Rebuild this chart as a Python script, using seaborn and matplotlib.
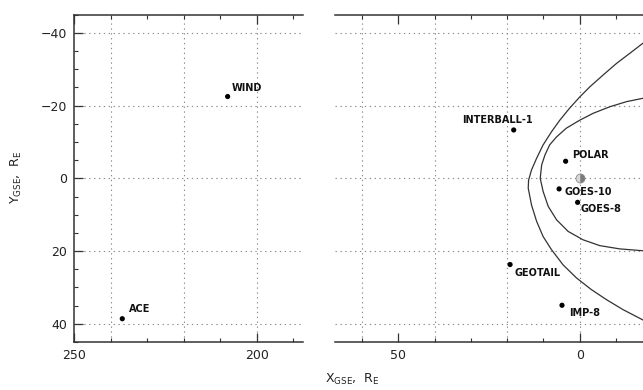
import matplotlib
matplotlib.use("Agg")
import matplotlib.pyplot as plt
import seaborn as sns
import pandas as pd
import numpy as np

# spacecraft far upstream (left panel)
far_names = ["WIND", "ACE"]
far_x = [208.0, 236.8]
far_y = [-22.5, 38.6]

# spacecraft near Earth (right panel)
near_names = ["INTERBALL-1", "POLAR", "GOES-10", "GOES-8", "GEOTAIL", "IMP-8"]
near_x = [18.2, 3.9, 5.7, 0.6, 19.2, 4.9]
near_y = [-13.3, -4.7, 2.9, 6.6, 23.7, 34.9]

earth_x = [0.0]
earth_y = [0.0]

# bow shock and magnetopause
bow_x = [-20.0, -17.3, -13.8, -10.1, -6.4, -2.8, 0.0, 2.8, 5.5, 7.8, 10.1, 11.9,
         13.3, 14.1, 14.2, 13.3, 11.9, 10.1, 7.8, 4.6, 0.9, -3.2, -7.4, -11.9,
         -17.3, -20.0]
bow_y = [-38.5, -37.1, -34.4, -31.6, -28.4, -25.2, -22.4, -19.3, -16.0, -12.8,
         -9.2, -5.5, -2.3, 0.5, 2.7, 7.3, 11.8, 16.0, 19.6, 23.8, 27.4, 30.6,
         33.4, 36.1, 38.9, 40.3]
mp_x = [-20.0, -17.3, -12.9, -8.3, -3.7, 0.0, 3.7, 6.4, 8.3, 9.6, 10.5, 10.9,
        10.1, 8.7, 6.4, 3.2, -0.9, -5.5, -11.0, -17.3, -20.0]
mp_y = [-22.4, -22.0, -21.1, -19.7, -17.9, -16.0, -13.8, -11.4, -9.2, -6.4,
        -3.7, 0.0, 3.6, 7.7, 11.4, 14.6, 16.9, 18.5, 19.4, 19.9, 20.05]

# label offsets in points: (dx, dy, ha, va)
far_offsets = [(3, 4.3, "left", "baseline"), (4.6, 4.8, "left", "baseline")]
near_offsets = [(14, 4.8, "right", "baseline"), (4.8, 2.2, "left", "baseline"),
                (4.1, 1.5, "left", "top"), (2.4, -1.5, "left", "top"),
                (2.9, -2.2, "left", "top"), (5.0, -1.8, "left", "top")]

sns.set_style("white")
plt.rcParams["font.family"] = ["DejaVu Sans"]

fig = plt.figure(figsize=(6.43, 3.9), dpi=100)
ax1 = fig.add_axes([0.1151, 0.1231, 0.3561, 0.8392])
ax2 = fig.add_axes([0.521, 0.1231, 0.479, 0.8392])

spine_col = "#333333"
grid_kw = dict(color="#8a8a8a", lw=0.8, ls=(0, (1.2, 3.2)), zorder=0)


def style_axis(ax, xlim, left):
    ax.set_xlim(*xlim)
    ax.set_ylim(45, -45)
    for y in [-40, -20, 0, 20, 40]:
        ax.axhline(y, **grid_kw)
    g0 = int(np.ceil(min(xlim) / 20.0)) * 20
    for x in np.arange(g0, max(xlim), 20):
        ax.axvline(x, **grid_kw)
    ax.xaxis.set_major_locator(matplotlib.ticker.MultipleLocator(50))
    ax.xaxis.set_minor_locator(matplotlib.ticker.MultipleLocator(10))
    ax.yaxis.set_major_locator(matplotlib.ticker.MultipleLocator(20))
    ax.yaxis.set_minor_locator(matplotlib.ticker.MultipleLocator(5))
    ax.tick_params(which="both", direction="in", top=True, bottom=True,
                   left=left, right=False, labelleft=left, color=spine_col,
                   labelsize=9, labelcolor="#222222")
    ax.tick_params(which="major", length=6.5, width=0.9, pad=5)
    ax.tick_params(which="minor", length=3, width=0.8)
    for s in ["top", "bottom", "left"]:
        ax.spines[s].set_color(spine_col)
        ax.spines[s].set_linewidth(1.1)
    ax.spines["right"].set_visible(False)
    if not left:
        ax.spines["left"].set_visible(False)
    ax.set_xlabel("")
    ax.set_ylabel("")


# left panel
far_df = pd.DataFrame({"x": far_x, "y": far_y, "name": far_names})
sns.scatterplot(data=far_df, x="x", y="y", ax=ax1, color="black", s=14,
                edgecolor="none", zorder=3)
for (_, r), (dx, dy, ha, va) in zip(far_df.iterrows(), far_offsets):
    ax1.annotate(r["name"], (r["x"], r["y"]), xytext=(dx, dy),
                 textcoords="offset points", ha=ha, va=va,
                 fontsize=7, fontweight="bold", color="#111111")
style_axis(ax1, (250, 187.4), True)
ax1.yaxis.set_major_formatter(matplotlib.ticker.FuncFormatter(
    lambda v, p: f"\u2212{abs(int(v))}" if v < 0 else f"{int(v)}"))

# right panel
bow_df = pd.DataFrame({"x": bow_x, "y": bow_y})
mp_df = pd.DataFrame({"x": mp_x, "y": mp_y})
sns.lineplot(data=bow_df, x="x", y="y", ax=ax2, sort=False, color="#333333",
             lw=0.9, estimator=None, zorder=2)
sns.lineplot(data=mp_df, x="x", y="y", ax=ax2, sort=False, color="#333333",
             lw=0.9, estimator=None, zorder=2)

near_df = pd.DataFrame({"x": near_x, "y": near_y, "name": near_names})
sns.scatterplot(data=near_df, x="x", y="y", ax=ax2, color="black", s=14,
                edgecolor="none", zorder=3)
for (_, r), (dx, dy, ha, va) in zip(near_df.iterrows(), near_offsets):
    ax2.annotate(r["name"], (r["x"], r["y"]), xytext=(dx, dy),
                 textcoords="offset points", ha=ha, va=va,
                 fontsize=7, fontweight="bold", color="#111111")
ax2.plot(earth_x, earth_y, "o", ms=6.5, fillstyle="right", mfc="#7a7a7a",
         mfcalt="#d8d8d8", mec="#8a8a8a", mew=0.6, zorder=4)
style_axis(ax2, (67.4, -17.4), False)

fig.text(0.505, 0.018, r"X$_{\rm GSE}$,  R$_{\rm E}$", fontsize=9,
         ha="left", va="baseline", color="#222222")
fig.text(0.025, 0.545, r"Y$_{\rm GSE}$,  R$_{\rm E}$", fontsize=9,
         ha="center", va="center", rotation=90, color="#222222")

fig.savefig("out.png", dpi=100)
